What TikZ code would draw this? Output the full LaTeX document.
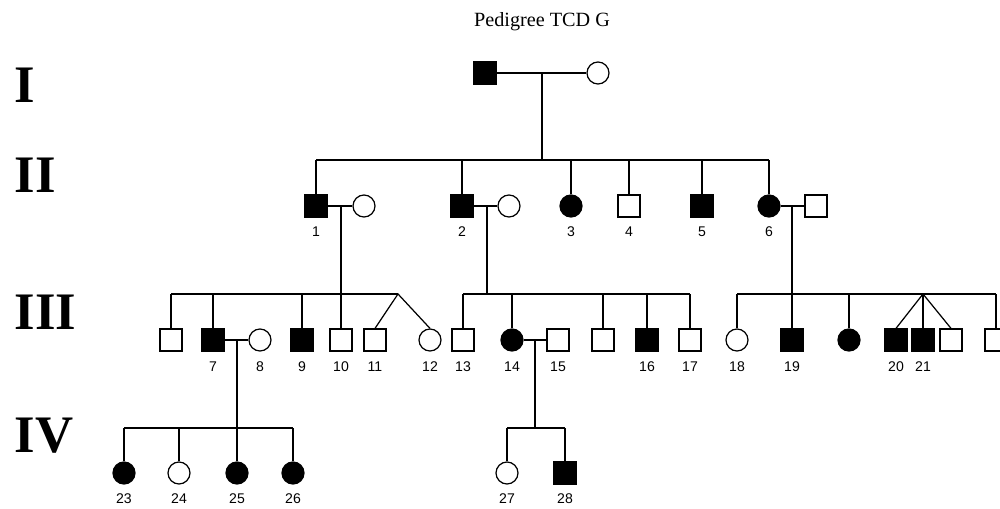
\documentclass[tikz,border=0pt]{standalone}
\usepackage{fontspec}
\setmainfont{Liberation Serif}
\newfontfamily\numfont{Liberation Sans}
\tikzset{
  male/.style={draw, rectangle, minimum size=0.44cm, inner sep=0pt, fill=white},
  maleaff/.style={male, fill=black},
  female/.style={draw, circle, minimum size=0.44cm, inner sep=0pt, fill=white},
  femaleaff/.style={female, fill=black},
  num/.style={inner sep=0pt, font=\numfont\fontsize{8}{9}\selectfont},
  gen/.style={anchor=base west, inner sep=0pt, font=\bfseries\fontsize{30}{32}\selectfont},
}
\begin{document}
\begin{tikzpicture}[x=0.02cm, y=-0.02cm, line width=0.7pt]
  \useasboundingbox (0,0) rectangle (1000,509);
  \clip (0,0) rectangle (1000,509);

  \node[font=\fontsize{11.5}{13}\selectfont] (title) at (542,22) {Pedigree TCD G};
  \node[gen] (g1) at (14,103) {I};
  \node[gen] (g2) at (14,193) {II};
  \node[gen] (g3) at (14,330) {III};
  \node[gen] (g4) at (14,453) {IV};

  % generation I
  \node[maleaff] (a1) at (485,73) {};
  \node[female] (a2) at (598,73) {};
  \draw (a1) -- (a2);
  \coordinate (m0) at (542,73);
  \coordinate (s2) at (0,160);
  \draw (m0) -- (m0 |- s2);

  % generation II
  \node[maleaff] (b1) at (316,206) {};
  \node[female] (b1w) at (364,206) {};
  \node[maleaff] (b2) at (462,206) {};
  \node[female] (b2w) at (509,206) {};
  \node[femaleaff] (b3) at (571,206) {};
  \node[male] (b4) at (629,206) {};
  \node[maleaff] (b5) at (702,206) {};
  \node[femaleaff] (b6) at (769,206) {};
  \node[male] (b6h) at (816,206) {};
  \draw (b1 |- s2) -- (b6 |- s2);
  \foreach \p in {b1,b2,b3,b4,b5,b6}
    \draw (\p.north) -- (\p |- s2);
  \draw (b1) -- (b1w);
  \draw (b2) -- (b2w);
  \draw (b6) -- (b6h);
  \foreach \n/\x in {1/316,2/462,3/571,4/629,5/702,6/769}
    \node[num] (lb\n) at (\x,232) {\n};

  % generation III
  \coordinate (s3) at (0,294);
  \coordinate (m1) at (341,206);
  \coordinate (m2) at (487,206);
  \coordinate (m6) at (792,206);
  \draw (m1) -- (m1 |- s3);
  \draw (m2) -- (m2 |- s3);
  \draw (m6) -- (m6 |- s3);

  \node[male] (c1) at (171,340) {};
  \node[maleaff] (c7) at (213,340) {};
  \node[female] (c8) at (260,340) {};
  \node[maleaff] (c9) at (302,340) {};
  \node[male] (c10) at (341,340) {};
  \node[male] (c11) at (375,340) {};
  \node[female] (c12) at (430,340) {};
  \coordinate (t1) at (398,294);
  \draw (c1 |- s3) -- (t1);
  \foreach \c in {c1,c7,c9,c10}
    \draw (\c.north) -- (\c |- s3);
  \draw (c11.north) -- (t1) -- (c12.north);
  \draw (c7) -- (c8);

  \node[male] (c13) at (463,340) {};
  \node[femaleaff] (c14) at (512,340) {};
  \node[male] (c15) at (558,340) {};
  \node[male] (c15b) at (603,340) {};
  \node[maleaff] (c16) at (647,340) {};
  \node[male] (c17) at (690,340) {};
  \draw (c13 |- s3) -- (c17 |- s3);
  \foreach \c in {c13,c14,c15b,c16,c17}
    \draw (\c.north) -- (\c |- s3);
  \draw (c14) -- (c15);

  \node[female] (c18) at (737,340) {};
  \node[maleaff] (c19) at (792,340) {};
  \node[femaleaff] (c19b) at (849,340) {};
  \node[maleaff] (c20) at (896,340) {};
  \node[maleaff] (c21) at (923,340) {};
  \node[male] (c22) at (951,340) {};
  \node[male] (c22b) at (996,340) {};
  \coordinate (t6) at (923,294);
  \draw (c18 |- s3) -- (c22b |- s3);
  \foreach \c in {c18,c19,c19b,c22b}
    \draw (\c.north) -- (\c |- s3);
  \draw (c20.north) -- (t6) -- (c22.north);
  \draw (t6) -- (c21.north);

  \foreach \n/\x in {7/213,8/260,9/302,10/341,11/375,12/430,13/463,14/512,
                     15/558,16/647,17/690,18/737,19/792,20/896,21/923}
    \node[num] (lc\n) at (\x,367) {\n};

  % generation IV
  \coordinate (s4) at (0,428);
  \coordinate (m7) at (237,340);
  \coordinate (m14) at (535,340);
  \draw (m7) -- (m7 |- s4);
  \draw (m14) -- (m14 |- s4);

  \node[femaleaff] (d23) at (124,473) {};
  \node[female] (d24) at (179,473) {};
  \node[femaleaff] (d25) at (237,473) {};
  \node[femaleaff] (d26) at (293,473) {};
  \node[female] (d27) at (507,473) {};
  \node[maleaff] (d28) at (565,473) {};
  \draw (d23 |- s4) -- (d26 |- s4);
  \draw (d27 |- s4) -- (d28 |- s4);
  \foreach \c in {d23,d24,d25,d26,d27,d28}
    \draw (\c.north) -- (\c |- s4);
  \foreach \n/\x in {23/124,24/179,25/237,26/293,27/507,28/565}
    \node[num] (ld\n) at (\x,499) {\n};
\end{tikzpicture}
\end{document}
